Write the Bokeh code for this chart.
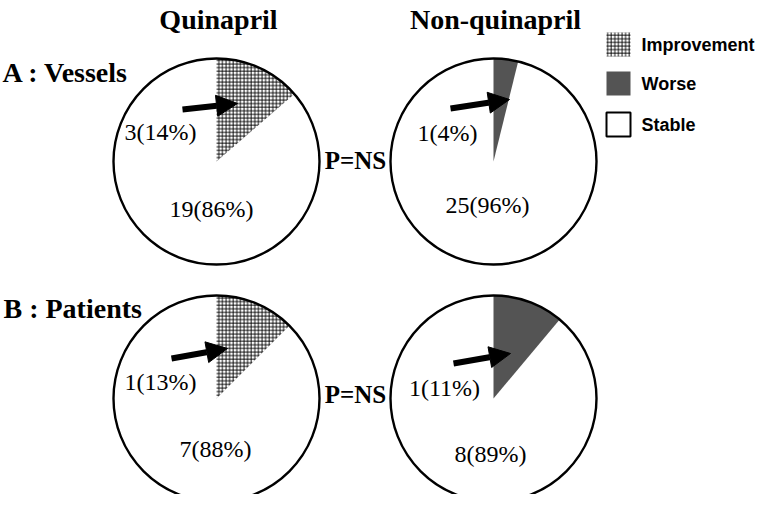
import math
from bokeh.plotting import figure
from bokeh.models import ColumnDataSource, Range1d, Arrow, NormalHead
from bokeh.core.properties import value
from bokeh.embed import file_html
from bokeh.resources import INLINE

# ---------------- data ----------------
treatments = ["Quinapril", "Non-quinapril"]
groups = ["A : Vessels", "B : Patients"]
pie_treatment = ["Quinapril", "Non-quinapril", "Quinapril", "Non-quinapril"]
pie_group = ["A : Vessels", "A : Vessels", "B : Patients", "B : Patients"]
changed_kind = ["Improvement", "Worse", "Improvement", "Worse"]
changed_counts = [3, 1, 1, 1]
changed_pct = [14, 4, 13, 11]
stable_counts = [19, 25, 7, 8]
stable_pct = [86, 96, 88, 89]
p_values = ["P=NS", "P=NS"]
legend_labels = ["Improvement", "Worse", "Stable"]

# ---------------- layout (page pixel coordinates) ----------------
W, H = 760, 494
col_x = {"Quinapril": 224, "Non-quinapril": 501}
row_y = {"A : Vessels": 169, "B : Patients": 406}
R = 103
SERIF = value("Liberation Serif")
SANS = value("Liberation Sans")

def Y(page_y):
    return 510 - page_y

kind_style = {
    "Improvement": dict(fill="white", hatch="+"),
    "Worse": dict(fill="#545454", hatch=" "),
    "Stable": dict(fill="white", hatch=" "),
}

p = figure(width=W, height=H, x_range=Range1d(8, 768), y_range=Range1d(8, 502),
           output_backend="svg", toolbar_location=None, min_border=0)
p.axis.visible = False
p.grid.visible = False
p.outline_line_color = None
p.background_fill_color = "white"

cx = [col_x[t] for t in pie_treatment]
cy = [Y(row_y[g]) for g in pie_group]
frac = [c / (c + s) for c, s in zip(changed_counts, stable_counts)]
top = math.pi / 2
small_start = [top - f * 2 * math.pi for f in frac]
small_end = [top] * 4
stable_start = [top] * 4
stable_end = [top - f * 2 * math.pi + 2 * math.pi for f in frac]

src = ColumnDataSource(dict(
    x=cx, y=cy, s0=small_start, s1=small_end, t0=stable_start, t1=stable_end,
    fill=[kind_style[k]["fill"] for k in changed_kind],
    hatch=[kind_style[k]["hatch"] for k in changed_kind],
))

# stable part
p.wedge(x="x", y="y", radius=R, start_angle="t0", end_angle="t1", source=src,
        fill_color="white", line_color=None)
# changed part
p.wedge(x="x", y="y", radius=R, start_angle="s0", end_angle="s1", source=src,
        fill_color="fill", line_color=None, hatch_pattern="hatch",
        hatch_color="black", hatch_scale=3.6, hatch_weight=0.9)
# outline
p.circle(x="x", y="y", radius=R, source=src, fill_color=None,
         line_color="black", line_width=2.4)

# arrows (offsets from pie centre, page pixels)
arrow_start = [(-34, -52), (-43, -53), (-45, -40), (-40, -35)]
arrow_tip = [(21, -58), (16, -62), (11, -50), (17, -45)]
for i in range(4):
    x0 = cx[i] + arrow_start[i][0]
    y0 = cy[i] - arrow_start[i][1]
    x1 = cx[i] + arrow_tip[i][0]
    y1 = cy[i] - arrow_tip[i][1]
    p.add_layout(Arrow(end=NormalHead(size=21, fill_color="black", line_color="black"),
                       x_start=x0, y_start=y0, x_end=x1, y_end=y1,
                       line_color="black", line_width=6))

# labels
small_off = [(-56, -30), (-46, -29), (-56, -17), (-49, -11)]
big_off = [(-5, 47), (-6, 43), (-1, 50), (-3, 55)]
lab_x, lab_y, lab_t = [], [], []
for i in range(4):
    lab_x.append(cx[i] + small_off[i][0]); lab_y.append(cy[i] - small_off[i][1])
    lab_t.append(f"{changed_counts[i]}({changed_pct[i]}%)")
    lab_x.append(cx[i] + big_off[i][0]); lab_y.append(cy[i] - big_off[i][1])
    lab_t.append(f"{stable_counts[i]}({stable_pct[i]}%)")
p.text(x=lab_x, y=lab_y, text=lab_t, text_font=SERIF, text_font_size="24px",
       text_align="center", text_baseline="middle", text_color="black")

# column titles
p.text(x=[col_x[t] + 2 for t in treatments], y=[Y(27)] * 2, text=treatments,
       text_font=SERIF, text_font_style="bold", text_font_size="28px",
       text_align="center", text_baseline="middle", text_color="black")
# row titles
p.text(x=[10, 11], y=[Y(80), Y(316)], text=groups,
       text_font=SERIF, text_font_style="bold", text_font_size="28px",
       text_align="left", text_baseline="alphabetic", text_color="black")
# p values
p.text(x=[363, 363], y=[Y(168), Y(402)], text=p_values,
       text_font=SERIF, text_font_style="bold", text_font_size="25px",
       text_align="center", text_baseline="middle", text_color="black")

# legend
leg_y = [Y(52), Y(91), Y(132)]
p.rect(x=[626] * 3, y=leg_y, width=24, height=24,
       fill_color=[kind_style[k]["fill"] for k in legend_labels],
       hatch_pattern=[kind_style[k]["hatch"] for k in legend_labels],
       hatch_color="black", hatch_scale=3.6, hatch_weight=0.9,
       line_color=[None, None, "black"], line_width=2)
p.text(x=[649] * 3, y=leg_y, text=legend_labels, text_font=SANS,
       text_font_style="bold", text_font_size="18px",
       text_align="left", text_baseline="middle", text_color="black")

open("out.html", "w").write(file_html(p, INLINE))
